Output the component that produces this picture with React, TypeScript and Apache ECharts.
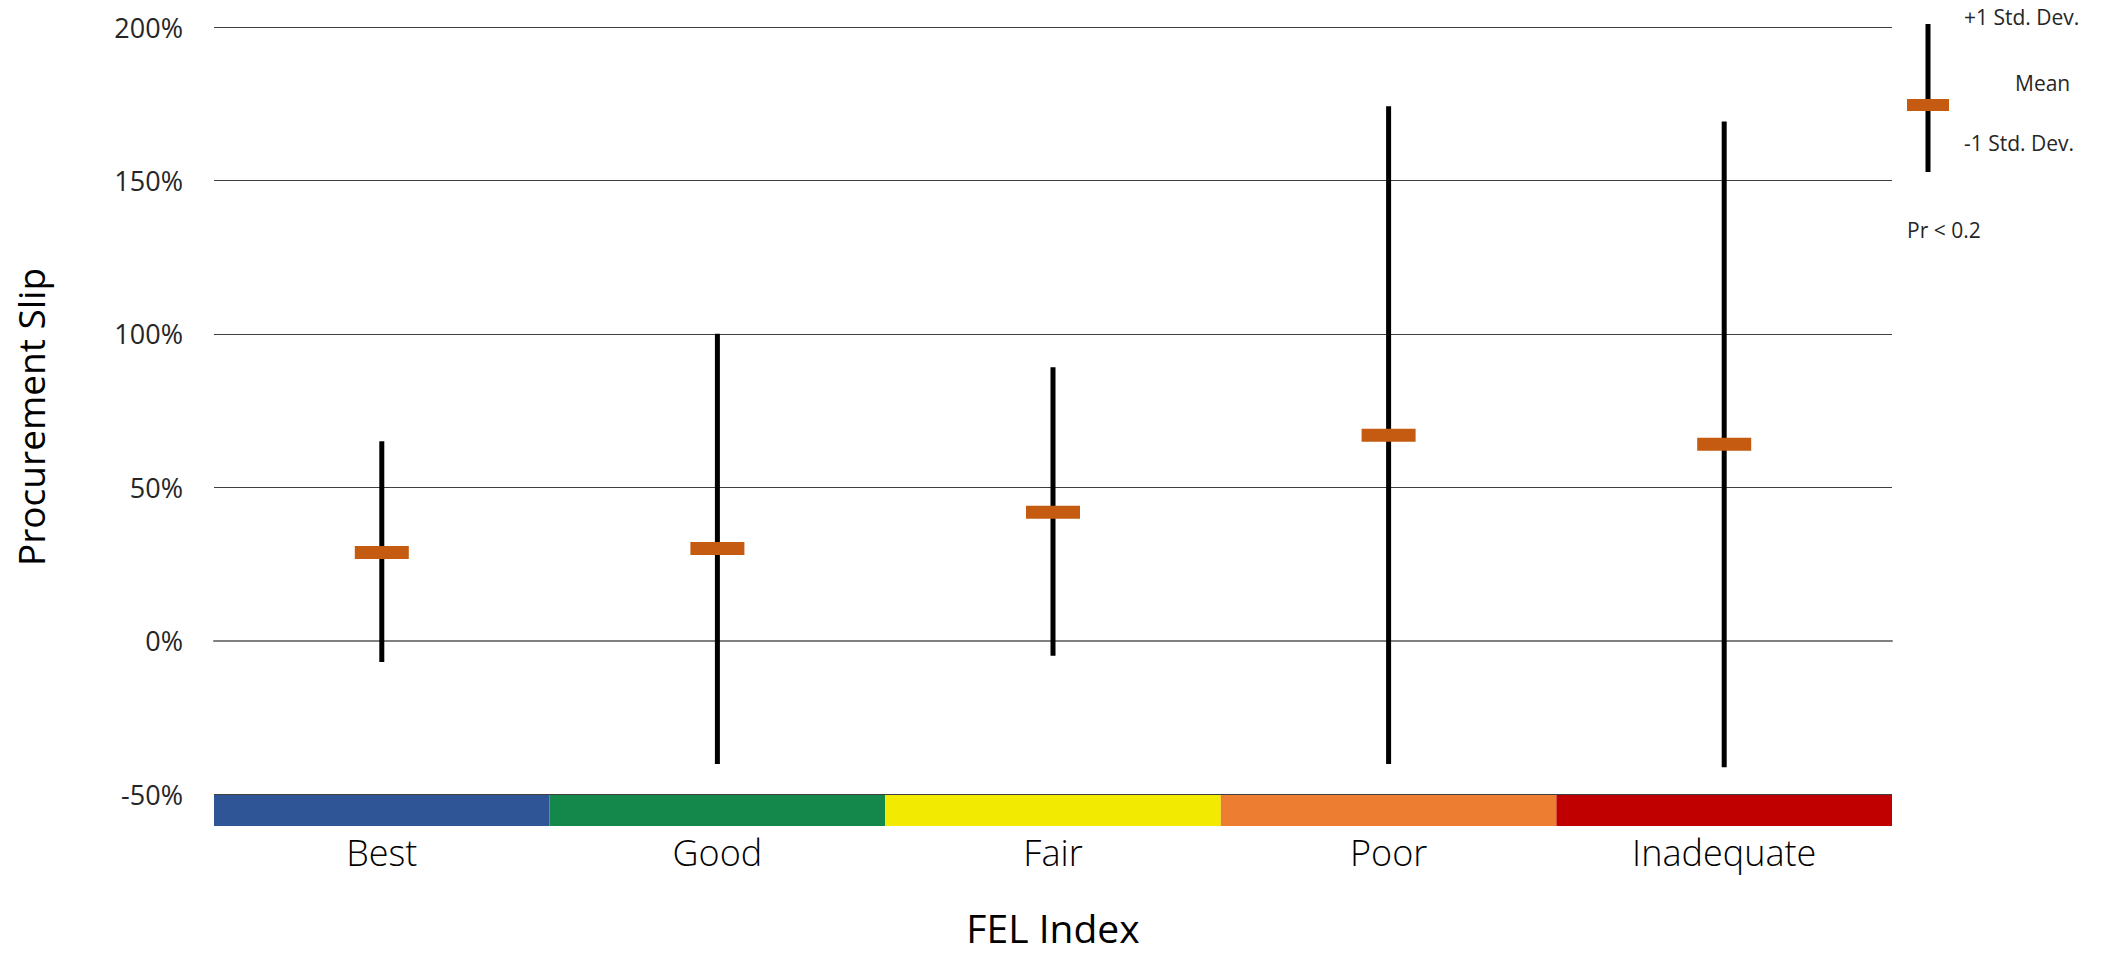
import React, { useEffect, useRef } from "react";
import * as echarts from "echarts";

const categories = ["Best", "Good", "Fair", "Poor", "Inadequate"];
const meanValues = [28.7, 30.0, 41.8, 66.9, 64.0];
const upperValues = [65.0, 100.0, 89.1, 174.2, 169.2];
const lowerValues = [-7.0, -40.2, -4.9, -40.2, -41.3];
const bandColors = ["#2F5597", "#13884A", "#F2EA00", "#ED7D31", "#C00000"];
const bandValues = [1, 1, 1, 1, 1];
const yTicks = { min: -50, max: 200, interval: 50 };
const legendTexts = ["+1 Std. Dev.", "Mean", "-1 Std. Dev.", "Pr < 0.2"];

const FONT = '"Open Sans", "Noto Sans", sans-serif';
const MEAN_COLOR = "#C55A11";

export default function App() {
  const ref = useRef<HTMLDivElement>(null);
  useEffect(() => {
    if (!ref.current) return;
    const chart = echarts.init(ref.current, null, { renderer: "svg" });
    const gridLeft = 214;
    const gridRight = 218;
    const legendStyle = { fontSize: 21, fontFamily: FONT, fill: "#262626", verticalAlign: "middle" };
    const option: any = {
      animation: false,
      backgroundColor: "#ffffff",
      grid: [
        { left: gridLeft, right: gridRight, top: 27, height: 767 },
        { left: gridLeft, right: gridRight, top: 795, height: 31 },
      ],
      xAxis: [
        {
          type: "category",
          gridIndex: 0,
          data: categories,
          boundaryGap: true,
          axisLine: { show: true, lineStyle: { color: "#808080", width: 2 } },
          axisTick: { show: false },
          axisLabel: { show: false },
          splitLine: { show: false },
        },
        {
          type: "category",
          gridIndex: 1,
          data: categories,
          boundaryGap: true,
          axisLine: { show: false },
          axisTick: { show: false },
          axisLabel: {
            show: true,
            margin: 8,
            fontSize: 36,
            fontWeight: 300,
            fontFamily: FONT,
            color: "#000000",
          },
        },
      ],
      yAxis: [
        {
          type: "value",
          gridIndex: 0,
          min: yTicks.min,
          max: yTicks.max,
          interval: yTicks.interval,
          axisLine: { show: false },
          axisTick: { show: false },
          axisLabel: {
            formatter: (v: number) => `${v}%`,
            fontSize: 27,
            fontFamily: FONT,
            color: "#262626",
            margin: 31,
          },
          splitLine: { show: true, lineStyle: { color: "#404040", width: 1 } },
        },
        {
          type: "value",
          gridIndex: 1,
          min: 0,
          max: 1,
          show: false,
          splitLine: { show: false },
        },
      ],
      series: [
        {
          type: "bar",
          xAxisIndex: 1,
          yAxisIndex: 1,
          barWidth: "100%",
          barCategoryGap: 0,
          silent: true,
          data: bandValues.map((v, i) => ({ value: v, itemStyle: { color: bandColors[i] } })),
        },
        {
          type: "custom",
          xAxisIndex: 0,
          yAxisIndex: 0,
          encode: { x: 0, y: [1, 2, 3] },
          data: categories.map((_, i) => [i, lowerValues[i], upperValues[i], meanValues[i]]),
          renderItem: (params: any, api: any) => {
            const idx = api.value(0);
            const lo = api.coord([idx, api.value(1)]);
            const hi = api.coord([idx, api.value(2)]);
            const mid = api.coord([idx, api.value(3)]);
            return {
              type: "group",
              children: [
                {
                  type: "rect",
                  shape: { x: lo[0] - 2.5, y: hi[1], width: 5, height: lo[1] - hi[1] },
                  style: { fill: "#000000" },
                },
                {
                  type: "rect",
                  shape: { x: mid[0] - 27, y: mid[1] - 6.5, width: 54, height: 13 },
                  style: { fill: MEAN_COLOR },
                },
              ],
            };
          },
        },
      ],
      graphic: [
        {
          type: "text",
          x: 1053,
          y: 927,
          style: {
            text: "FEL Index",
            fontSize: 39,
            fontFamily: FONT,
            fill: "#000000",
            align: "center",
            verticalAlign: "middle",
          },
        },
        {
          type: "text",
          x: 30,
          y: 417,
          rotation: Math.PI / 2,
          style: {
            text: "Procurement Slip",
            fontSize: 37,
            fontFamily: FONT,
            fill: "#000000",
            align: "center",
            verticalAlign: "middle",
          },
        },
        {
          type: "rect",
          shape: { x: 1925.5, y: 24, width: 5, height: 148 },
          style: { fill: "#000000" },
        },
        {
          type: "rect",
          shape: { x: 1907, y: 99, width: 42, height: 12 },
          style: { fill: MEAN_COLOR },
        },
        { type: "text", x: 1964, y: 17, style: { ...legendStyle, text: legendTexts[0] } },
        { type: "text", x: 2015, y: 83, style: { ...legendStyle, text: legendTexts[1] } },
        { type: "text", x: 1964, y: 143, style: { ...legendStyle, text: legendTexts[2] } },
        { type: "text", x: 1907, y: 230, style: { ...legendStyle, text: legendTexts[3] } },
      ],
    };
    chart.setOption(option);
    return () => chart.dispose();
  }, []);
  return (
    <div
      ref={ref}
      style={{ position: "fixed", left: 0, top: 0, width: 2110, height: 956, background: "#fff" }}
    />
  );
}
